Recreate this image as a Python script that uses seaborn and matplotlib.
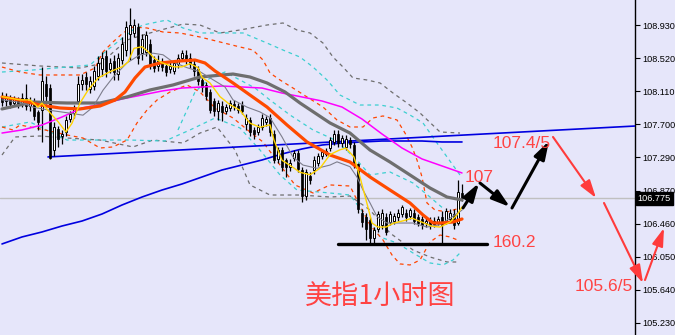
import matplotlib
matplotlib.use('Agg')
import matplotlib.pyplot as plt
import seaborn as sns
import numpy as np
from matplotlib.transforms import blended_transform_factory

# ---------------- candles (1-hour, USD index) ----------------
opens = [108.05, 107.98, 108.02, 107.96, 108.00, 107.95, 108.02, 107.93, 107.98, 107.85,
         107.88, 108.20, 108.15, 107.38, 107.64, 107.55, 107.60, 107.76, 107.84, 107.98,
         108.20, 108.28, 108.14, 108.17, 108.30, 108.38, 108.55, 108.38, 108.48, 108.32,
         108.50, 108.62, 108.82, 108.83, 108.90, 108.58, 108.60, 108.70, 108.50, 108.42,
         108.47, 108.42, 108.38, 108.36, 108.45, 108.52, 108.56, 108.52, 108.45, 108.38,
         108.25, 108.18, 108.10, 107.98, 107.86, 107.93, 107.86, 107.90, 107.95, 107.92,
         107.94, 107.70, 107.75, 107.63, 107.60, 107.66, 107.72, 107.78, 107.58, 107.26,
         107.38, 107.25, 107.17, 107.28, 107.34, 107.13, 106.80, 107.06, 107.13, 107.22,
         107.30, 107.33, 107.40, 107.48, 107.58, 107.46, 107.42, 107.50, 107.44, 107.20,
         106.60, 106.55, 106.51, 106.28, 106.40, 106.45, 106.55, 106.48, 106.50, 106.55,
         106.58, 106.60, 106.56, 106.60, 106.55, 106.52, 106.47, 106.50, 106.46, 106.48,
         106.55, 106.50, 106.52, 106.58, 106.47, 106.84]
highs = [108.10, 108.08, 108.06, 108.05, 108.04, 108.08, 108.20, 108.03, 108.02, 107.88,
         108.41, 108.30, 108.20, 107.72, 107.68, 107.62, 107.80, 107.86, 107.94, 108.30,
         108.32, 108.35, 108.30, 108.42, 108.55, 108.60, 108.62, 108.52, 108.56, 108.58,
         108.78, 108.98, 109.14, 109.00, 108.95, 108.82, 108.86, 108.75, 108.55, 108.56,
         108.52, 108.48, 108.47, 108.50, 108.57, 108.62, 108.62, 108.58, 108.50, 108.42,
         108.30, 108.22, 108.14, 108.02, 108.00, 107.98, 107.95, 108.00, 108.00, 107.96,
         107.98, 107.82, 107.79, 107.66, 107.70, 107.82, 107.80, 107.82, 107.62, 107.42,
         107.42, 107.28, 107.26, 107.38, 107.38, 107.16, 107.14, 107.10, 107.30, 107.34,
         107.38, 107.40, 107.54, 107.62, 107.62, 107.56, 107.56, 107.54, 107.48, 107.22,
         106.65, 106.60, 106.55, 106.42, 106.62, 106.64, 106.60, 106.62, 106.60, 106.64,
         106.70, 106.65, 106.66, 106.64, 106.58, 106.56, 106.54, 106.54, 106.54, 106.56,
         106.62, 106.66, 106.64, 106.64, 107.00, 106.96]
lows = [107.92, 107.93, 107.90, 107.92, 107.90, 107.91, 107.88, 107.86, 107.75, 107.62,
        107.48, 107.95, 107.26, 107.30, 107.42, 107.45, 107.55, 107.72, 107.78, 107.95,
        108.12, 108.12, 108.08, 108.12, 108.25, 108.30, 108.28, 108.33, 108.25, 108.25,
        108.45, 108.55, 108.50, 108.78, 108.45, 108.50, 108.55, 108.38, 108.35, 108.36,
        108.36, 108.30, 108.33, 108.32, 108.40, 108.48, 108.45, 108.40, 108.30, 108.18,
        108.10, 108.00, 107.84, 107.80, 107.75, 107.74, 107.82, 107.86, 107.88, 107.84,
        107.82, 107.62, 107.55, 107.52, 107.56, 107.62, 107.68, 107.55, 107.22, 107.22,
        107.12, 107.04, 107.12, 107.24, 107.10, 106.73, 106.76, 106.96, 107.08, 107.18,
        107.26, 107.30, 107.36, 107.44, 107.42, 107.42, 107.38, 107.40, 107.15, 106.60,
        106.42, 106.26, 106.22, 106.22, 106.36, 106.40, 106.32, 106.44, 106.46, 106.50,
        106.54, 106.50, 106.52, 106.46, 106.43, 106.40, 106.42, 106.40, 106.42, 106.44,
        106.20, 106.46, 106.48, 106.40, 106.44, 106.74]
closes = [107.97, 108.03, 107.95, 108.01, 107.95, 108.02, 107.92, 107.98, 107.80, 107.72,
          108.24, 108.05, 107.28, 107.66, 107.52, 107.58, 107.75, 107.82, 107.90, 108.20,
          108.25, 108.20, 108.24, 108.36, 108.46, 108.52, 108.36, 108.46, 108.35, 108.52,
          108.70, 108.90, 108.93, 108.93, 108.52, 108.76, 108.80, 108.42, 108.40, 108.48,
          108.41, 108.35, 108.42, 108.46, 108.52, 108.58, 108.50, 108.44, 108.36, 108.24,
          108.16, 108.05, 107.88, 107.86, 107.96, 107.85, 107.91, 107.96, 107.92, 107.88,
          107.86, 107.77, 107.60, 107.58, 107.66, 107.78, 107.76, 107.60, 107.25, 107.38,
          107.17, 107.17, 107.22, 107.34, 107.14, 106.80, 107.10, 107.00, 107.25, 107.30,
          107.35, 107.36, 107.50, 107.58, 107.46, 107.53, 107.52, 107.45, 107.20, 106.65,
          106.48, 106.40, 106.28, 106.38, 106.58, 106.60, 106.36, 106.58, 106.56, 106.60,
          106.67, 106.55, 106.63, 106.50, 106.47, 106.44, 106.50, 106.45, 106.50, 106.52,
          106.45, 106.62, 106.60, 106.45, 106.86, 106.775]
last_price = 106.775

# ---------------- moving averages ----------------
orange_x = [0, 4.5, 9.5, 14.5, 19.5, 24.5, 28.25, 30.75, 33.25, 35.75, 39.5, 44.5, 48.25, 50.75, 53.25,
            57.75, 62, 66.25, 71.25, 76.25, 82, 87, 92, 97, 102, 105.25, 107.75, 110.25, 112.75, 115]
orange_y = [108.036, 107.998, 107.936, 107.899, 107.887, 107.924, 107.998, 108.098, 108.272, 108.408,
            108.458, 108.483, 108.495, 108.458, 108.359, 108.210, 108.060, 107.911, 107.688, 107.477,
            107.315, 107.228, 107.042, 106.880, 106.719, 106.570, 106.471, 106.471, 106.483, 106.520]
gray_x = [0, 7.75, 16.25, 24.5, 31.25, 37, 42.75, 49.5, 57.75, 62, 66.25, 70.75, 74.5, 78.25, 82,
          87, 92, 97, 102, 107, 111.25, 115]
gray_y = [107.887, 107.973, 107.961, 107.961, 108.036, 108.123, 108.185, 108.284, 108.321, 108.284,
          108.210, 108.098, 107.961, 107.837, 107.713, 107.588, 107.377, 107.228, 107.067, 106.905,
          106.793, 106.756]
ma_idx = [0, 5, 10, 15, 20, 25, 30, 35, 40, 45, 50, 55, 60, 65, 70, 75, 80, 85, 90, 95, 100, 105, 110, 115]
ma_magenta = [107.588, 107.626, 107.688, 107.787, 107.899, 107.948, 108.011, 108.060, 108.110, 108.147,
              108.160, 108.172, 108.160, 108.147, 108.085, 108.036, 107.986, 107.911, 107.762, 107.576,
              107.402, 107.266, 107.179, 107.092]
ma_blue = [106.210, 106.297, 106.359, 106.433, 106.495, 106.582, 106.694, 106.793, 106.880, 106.955,
           107.042, 107.129, 107.191, 107.253, 107.328, 107.390, 107.439, 107.464, 107.477, 107.489,
           107.489, 107.489, 107.477, 107.477]

yellow_x = [0, 4.5, 7, 9, 10, 12, 14, 16, 17.5, 19.5, 21.5, 24, 27, 30, 31.5, 33, 35, 36.5, 38, 40,
            43, 45, 47, 49, 50, 52, 54.5, 57, 59.5, 62, 64.5, 67, 68, 70, 72.5, 74.5, 77, 79.5, 82, 84.5,
            86, 88, 89.5, 91, 92.5, 94, 96, 98, 100.5, 102.5, 105, 107.5, 109.5, 112, 113.75, 115]
yellow_y = [108.04, 108.00, 108.00, 107.91, 107.96, 107.84, 107.73, 107.60, 107.71, 107.96,
            108.12, 108.27, 108.35, 108.41, 108.47, 108.64, 108.66, 108.60, 108.52, 108.46,
            108.41, 108.41, 108.45, 108.40, 108.28, 108.21, 108.04, 107.94, 107.87, 107.71,
            107.66, 107.69, 107.50, 107.25, 107.17, 107.10, 107.07, 107.15, 107.32, 107.38,
            107.40, 107.29, 107.04, 106.76, 106.47, 106.42, 106.42, 106.47, 106.50, 106.53,
            106.48, 106.43, 106.42, 106.48, 106.57, 106.67]
thin_x = [0, 4.5, 7.75, 12, 16.25, 20.25, 22.75, 25.25, 27.75, 31.25, 34.5, 37.75, 40.25, 42.75, 46.25,
          49.5, 52.75, 55.75, 57.75, 61.25, 64.5, 67, 70, 72.75, 75.25, 78.75, 82, 83.75, 87, 88.75,
          90.25, 92, 93.75, 96.25, 99.5, 102.75, 106.25, 109.5, 112, 115]
thin_y = [108.00, 107.97, 107.91, 107.87, 107.84, 107.81, 107.91, 108.12, 108.28, 108.46,
          108.56, 108.58, 108.56, 108.47, 108.40, 108.35, 108.25, 108.16, 108.00, 107.91,
          107.85, 107.78, 107.54, 107.29, 107.19, 107.15, 107.19, 107.23, 107.17, 107.04,
          106.88, 106.72, 106.55, 106.47, 106.47, 106.47, 106.42, 106.45, 106.53, 106.63]

# ---------------- bands (dashed) ----------------
gray_up_x = [0, 9.5, 19.5, 24.5, 31.25, 37, 45.25, 49.5, 54.5, 59.5, 66.25, 70.25, 73.75, 77, 80.25,
             82.75, 85.25, 87.75, 91.25, 94.5, 97.75, 101.25, 104.5, 109.5, 114.5]
gray_up_y = [108.458, 108.421, 108.396, 108.446, 108.744, 108.831, 108.942, 108.930, 108.831, 108.868,
             108.930, 108.955, 108.868, 108.831, 108.706, 108.532, 108.408, 108.272, 108.247, 108.210,
             108.085, 107.961, 107.837, 107.601, 107.588]
gray_lo_x = [0, 3.25, 9.5, 16.25, 24.5, 32.75, 37.75, 45.25, 49.5, 53.75, 58.25, 62, 67, 74.5, 82,
             87, 92, 97, 102.75, 107, 111.25, 114.5]
gray_lo_y = [107.315, 107.539, 107.551, 107.526, 107.501, 107.415, 107.501, 107.464, 107.588, 107.663,
             107.377, 106.943, 106.818, 106.818, 106.793, 106.806, 106.632, 106.346, 106.135, 106.048,
             105.986, 105.986]
cyan_up_x = [0, 7.75, 16.25, 22, 25.75, 29.5, 32.75, 35.25, 38.75, 41.25, 45.25, 49.5, 56.25, 60.25,
             66.25, 70.25, 74.5, 77.75, 81.25, 84.5, 89.5, 94.5, 98.75, 102, 105.25, 108.75, 111.25, 114.5]
cyan_up_y = [108.346, 108.371, 108.408, 108.433, 108.595, 108.744, 108.868, 108.930, 108.967, 108.992,
             108.893, 108.831, 108.831, 108.831, 108.706, 108.619, 108.532, 108.408, 108.247, 108.060,
             107.936, 107.936, 107.899, 107.812, 107.713, 107.464, 107.291, 107.067]
cyan_lo_x = [0, 7, 16.25, 24.5, 32, 40.75, 47, 53.25, 59.5, 64.5, 69.5, 73.75, 82, 87, 90.75, 94.5,
             98.75, 102.75, 107, 110.25, 112.75, 114.5]
cyan_lo_y = [107.663, 107.725, 107.501, 107.501, 107.501, 107.489, 107.626, 107.775, 107.651, 107.377,
             107.067, 106.880, 106.843, 106.818, 106.570, 106.297, 106.222, 106.098, 105.974, 105.949,
             106.011, 106.098]
cyan_mid_x = [44, 46.25, 48.25, 52, 55.75, 59.5, 63.25, 67, 72, 77.75, 83.25, 88.25, 92, 97, 102.75, 107, 110.75]
cyan_mid_y = [107.626, 107.874, 108.098, 108.272, 108.346, 108.247, 108.147, 107.998, 107.812, 107.626,
              107.501, 107.278, 107.067, 107.104, 106.967, 106.793, 106.632]
red_up_x = [0, 4.5, 9.5, 19.5, 23.25, 25.25, 27.75, 30.25, 32.75, 36.25, 40.25, 44.5, 49.5, 54.5, 59.5,
            62.75, 65.25, 67, 69.5, 72.75, 76.25, 80.25, 83.75, 87, 90.25, 92.75, 95.25, 98.75, 100.75,
            102.5, 103.75, 105, 106.25, 108.25, 111.25, 114.5]
red_up_y = [108.408, 108.346, 108.309, 108.309, 108.396, 108.595, 108.719, 108.831, 108.905, 108.893,
            108.843, 108.831, 108.781, 108.719, 108.657, 108.619, 108.495, 108.334, 108.247, 108.147,
            108.036, 107.911, 107.750, 107.663, 107.663, 107.775, 107.800, 107.750, 107.588, 107.415,
            107.253, 107.042, 106.719, 106.632, 106.607, 106.657]
red_lo_x = [0, 2.75, 4.5, 10.75, 16.25, 20.25, 24.5, 27.75, 31.25, 33.75, 36.25, 38.75, 42, 46.25, 49.5,
            53.25, 57.75, 62, 65.25, 69.5, 73.25, 77.75, 82, 87, 88.75, 92, 95.25, 97.5, 99.5, 102,
            104.5, 107, 109.5, 112, 114.5]
red_lo_y = [107.663, 107.626, 107.688, 107.626, 107.564, 107.526, 107.402, 107.415, 107.501, 107.713,
            107.874, 107.998, 108.098, 108.185, 108.098, 107.899, 107.775, 107.601, 107.477, 107.191,
            106.943, 106.843, 106.943, 106.930, 106.756, 106.446, 106.259, 106.073, 105.962, 105.949,
            106.011, 106.234, 106.321, 106.297, 106.247]

# ---------------- drawn objects ----------------
trend_x = [11.5, 158.25]
trend_y = [107.291, 107.675]
support_x = [84, 121.25]
support_y = [106.21, 106.21]
black_path = [((115.25, 106.657), (119.25, 106.967)),
              ((119.5, 106.967), (127.0, 106.669)),
              ((127.5, 106.657), (136.75, 107.489))]
red_path = [((137.75, 107.539), (148.5, 106.781)),
            ((150.5, 106.719), (160.25, 105.725)),
            ((160.75, 105.762), (165.5, 106.408))]
labels = [("107", 115.75, 107.04), ("107.4/5", 122.75, 107.464),
          ("160.2", 122.75, 106.228), ("105.6/5", 143.25, 105.682)]
title_text = "美指1小时图"
ytick_vals = [105.230, 105.640, 106.050, 106.460, 106.870, 107.290, 107.700, 108.110, 108.520, 108.930]

# ---------------- styling ----------------
BG = '#E6E6FA'
RED_TXT = '#FF4343'
sns.set_theme(style='white')
plt.rcParams['font.family'] = ['Liberation Sans', 'DejaVu Sans']

fig = plt.figure(figsize=(6.75, 3.35), dpi=100, facecolor=BG)
ax = fig.add_axes([0, 0, 635 / 675, 1])
ax.set_facecolor(BG)
ax.set_xlim(-0.5, 158.25)
ax.set_ylim(105.079, 109.2406)


def line(xs, ys, color, lw, ls='-', z=5):
    sns.lineplot(x=np.asarray(xs, float), y=np.asarray(ys, float), ax=ax, color=color,
                 linewidth=lw, linestyle=ls, sort=False, estimator=None, legend=False, zorder=z)


# current price line
ax.axhline(last_price, color='#C0C0C0', lw=1.0, zorder=1)

# bands
dash = (0, (3, 3))
line(gray_up_x, gray_up_y, '#6E6E6E', 0.9, dash, 2)
line(gray_lo_x, gray_lo_y, '#6E6E6E', 0.9, dash, 2)
line(cyan_up_x, cyan_up_y, '#3CCFD0', 0.9, dash, 2)
line(cyan_lo_x, cyan_lo_y, '#3CCFD0', 0.9, dash, 2)
line(cyan_mid_x, cyan_mid_y, '#3CCFD0', 0.9, dash, 2)
line(red_up_x, red_up_y, '#FF4500', 0.9, dash, 2)
line(red_lo_x, red_lo_y, '#FF4500', 0.9, dash, 2)

# blue lines
line(trend_x, trend_y, '#0000E0', 1.2, '-', 3)
line(ma_idx, ma_blue, '#0000E0', 1.2, '-', 3)

# candles
o = np.array(opens); h = np.array(highs); l = np.array(lows); c = np.array(closes)
idx = np.arange(len(c))
ax.vlines(idx, l, h, color='black', lw=0.9, zorder=4)
up = c >= o
bottoms = np.minimum(o, c)
heights = np.maximum(np.abs(c - o), 0.012)
ax.bar(idx[up], heights[up], bottom=bottoms[up], width=0.72, facecolor='white',
       edgecolor='black', linewidth=0.7, zorder=4.5)
ax.bar(idx[~up], heights[~up], bottom=bottoms[~up], width=0.72, color='black',
       edgecolor='black', linewidth=0.5, zorder=4.5)

# moving averages
line(ma_idx, ma_magenta, '#FF00FF', 1.1, '-', 5)
line(gray_x, gray_y, '#6E6E6E', 2.3, '-', 5)
line(orange_x, orange_y, '#FF4A00', 2.3, '-', 5.2)
line(thin_x, thin_y, '#7D7D8C', 0.8, '-', 5.1)
line(yellow_x, yellow_y, '#FFD400', 1.0, '-', 5.3)

# support line
line(support_x, support_y, 'black', 2.4, '-', 6)

# arrows
for (s, e) in black_path:
    ax.annotate('', xy=e, xytext=s, annotation_clip=False, zorder=7,
                arrowprops=dict(arrowstyle='-|>,head_length=0.9,head_width=0.28', color='black',
                                lw=2.2, shrinkA=0, shrinkB=0, clip_on=False))
for (s, e) in red_path:
    ax.annotate('', xy=e, xytext=s, annotation_clip=False, zorder=7,
                arrowprops=dict(arrowstyle='-|>,head_length=0.9,head_width=0.28', color='#FF3B3B',
                                lw=1.5, shrinkA=0, shrinkB=0, clip_on=False))

for (t, xv, yv) in labels:
    ax.text(xv, yv, t, color=RED_TXT, fontsize=12.5, ha='left', va='center',
            family=['Liberation Sans', 'DejaVu Sans'], zorder=8, clip_on=False)

ax.text(94.5, 105.55, title_text, color=RED_TXT, fontsize=19.5, ha='center', va='center',
        family=['Noto Sans CJK SC', 'DejaVu Sans'], zorder=8)

# axes styling
for side in ['left', 'top', 'bottom']:
    ax.spines[side].set_visible(False)
ax.spines['right'].set_visible(True)
ax.spines['right'].set_color('black')
ax.spines['right'].set_linewidth(1.0)
ax.set_xticks([])
ax.yaxis.tick_right()
ax.set_yticks(ytick_vals)
ax.set_yticklabels([f"{v:.3f}" for v in ytick_vals])
ax.tick_params(axis='y', right=True, length=3.5, width=0.8, color='black', pad=2,
               labelsize=6.6, labelcolor='black')
ax.set_xlabel('')
ax.set_ylabel('')
ax.grid(False)

tr = blended_transform_factory(ax.transAxes, ax.transData)
ax.text(1.004, last_price, f"{last_price:.3f}", transform=tr, color='white', fontsize=6.6,
        ha='left', va='center', zorder=10, clip_on=False,
        bbox=dict(boxstyle='square,pad=0.2', facecolor='black', edgecolor='black'))

fig.savefig('out.png', dpi=100, facecolor=BG)
